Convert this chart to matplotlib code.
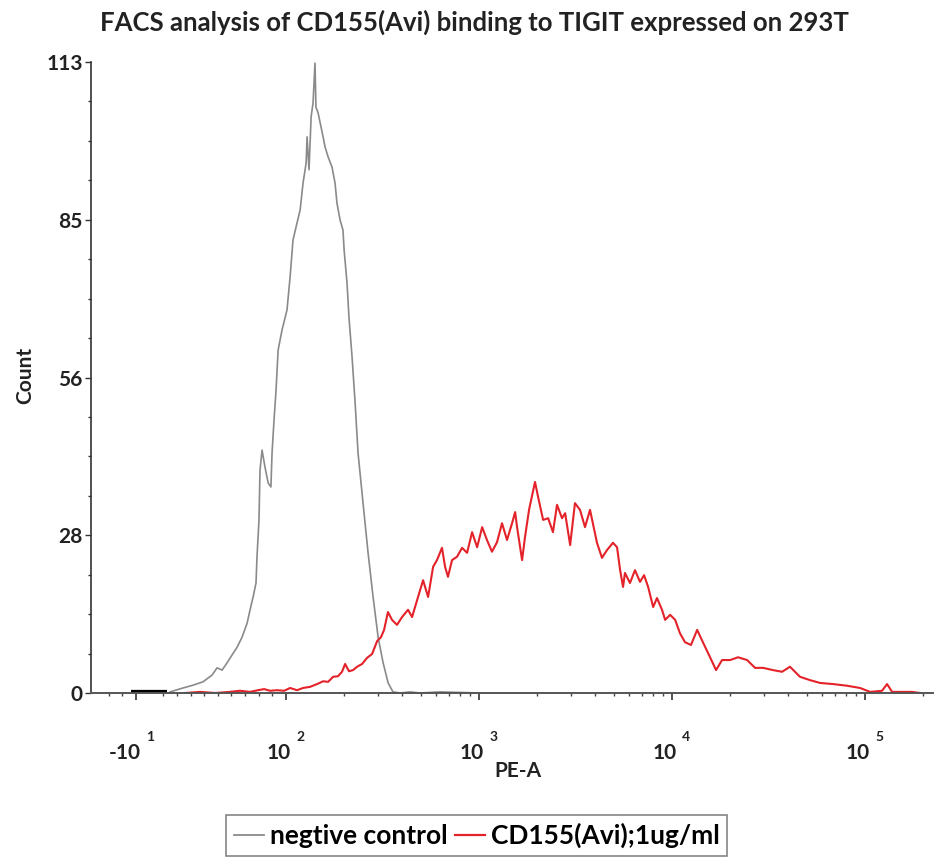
import numpy as np
import matplotlib.pyplot as plt
from matplotlib import transforms
from matplotlib.lines import Line2D

plt.rcParams['font.family'] = ['Lato', 'DejaVu Sans']
plt.rcParams['font.weight'] = 'bold'

neg_log = [1.176, 1.389, 1.502, 1.592, 1.660, 1.694, 1.725, 1.754, 1.781, 1.807,
           1.831, 1.854, 1.867, 1.880, 1.892, 1.896, 1.904, 1.908, 1.916, 1.927,
           1.939, 1.949, 1.953, 1.960, 1.967, 1.974, 1.987,
           2.005, 2.021, 2.036, 2.057, 2.073, 2.088, 2.104, 2.109, 2.119, 2.130,
           2.140, 2.150, 2.155, 2.166, 2.181, 2.192, 2.202, 2.218, 2.238, 2.254,
           2.264, 2.280, 2.295, 2.301, 2.316, 2.326, 2.342, 2.358, 2.373, 2.399,
           2.425, 2.451, 2.477, 2.503, 2.529, 2.554, 2.591, 2.643, 2.694, 2.798,
           3.005]
neg_count = [0.2, 0.9, 1.4, 2.0, 3.2, 4.5, 4.1, 5.4, 6.8, 8.2,
             10.0, 12.5, 14.9, 17.2, 19.7, 24.4, 31.0, 39.9, 43.5, 40.5,
             37.6, 36.9, 43.0, 48.9, 54.3, 61.4, 65.0,
             68.6, 74.5, 81.1, 84.2, 86.5, 91.3, 94.9, 99.6, 93.7, 103.2,
             105.7, 112.8, 104.9, 103.9, 101.4, 99.6, 97.8, 96.0, 94.2, 91.3,
             87.7, 84.7, 82.9, 79.3, 73.4, 67.3, 60.2, 51.9, 43.0, 34.0,
             25.1, 17.2, 10.0, 5.4, 1.8, 0.2, 0, 0.2, 0, 0.2,
             0]

cd155_log = [1.414, 1.568, 1.681, 1.770, 1.821, 1.867, 1.900, 1.924, 1.946, 1.970, 1.994,
             2.021, 2.057, 2.088, 2.124, 2.161, 2.192, 2.218, 2.244, 2.269, 2.290,
             2.306, 2.326, 2.347, 2.368, 2.394, 2.420, 2.446, 2.472, 2.492, 2.508,
             2.528, 2.549, 2.575, 2.601, 2.632, 2.653, 2.684, 2.710, 2.736, 2.762,
             2.782, 2.808, 2.824, 2.839, 2.860, 2.886, 2.912, 2.938, 2.964, 2.990,
             3.016, 3.041, 3.067, 3.093, 3.119, 3.145, 3.171, 3.187, 3.197, 3.223,
             3.238, 3.259, 3.290, 3.306, 3.332, 3.358, 3.383, 3.404, 3.430, 3.446,
             3.472, 3.497, 3.523, 3.549, 3.575, 3.611, 3.637, 3.663, 3.694, 3.715,
             3.731, 3.746, 3.756, 3.782, 3.808, 3.834, 3.855, 3.876, 3.902, 3.922,
             3.948, 3.964, 3.990, 4.016, 4.041, 4.067, 4.098, 4.130, 4.161, 4.197,
             4.228, 4.259, 4.301, 4.342, 4.389, 4.430, 4.472, 4.523, 4.570, 4.611,
             4.663, 4.715, 4.767, 4.834, 4.907, 4.974, 5.026, 5.088, 5.114, 5.140,
             5.181, 5.244, 5.285]
cd155_count = [0, 0.2, 0, 0.2, 0.4, 0.2, 0.5, 0.7, 0.4, 0.5, 0.4,
               0.9, 0.5, 0.9, 1.1, 1.6, 2.1, 2.0, 2.9, 3.0, 3.8,
               5.2, 3.9, 4.1, 4.7, 5.2, 6.3, 7.0, 9.3, 10.0, 11.3,
               14.5, 13.1, 12.2, 13.6, 14.9, 13.6, 17.2, 20.2, 17.2, 22.6,
               23.8, 26.0, 22.6, 20.8, 23.8, 24.4, 26.0, 25.1, 28.8, 26.1,
               29.7, 27.4, 25.3, 27.0, 30.4, 27.4, 30.4, 32.4, 29.7, 23.8,
               27.9, 32.8, 37.8, 35.1, 31.0, 31.3, 28.8, 33.7, 31.3, 32.2,
               26.5, 34.0, 32.8, 29.7, 32.8, 26.9, 24.2, 25.6, 26.9, 26.1,
               22.0, 19.0, 21.5, 19.7, 22.0, 19.9, 21.1, 19.0, 15.4, 17.0,
               14.9, 13.1, 14.0, 13.1, 10.7, 9.1, 8.6, 11.3, 9.0, 6.4,
               4.1, 5.9, 5.9, 6.4, 5.9, 4.5, 4.5, 4.1, 3.8, 4.7,
               2.9, 2.3, 1.8, 1.6, 1.3, 0.9, 0.2, 0.4, 1.6, 0.2,
               0.2, 0.2, 0]

# events piled up around zero (black stub on the axis)
zero_pe = [-14, 13]
zero_count = [0, 0]

y_ticks = [0, 28.25, 56.5, 84.75, 113]
y_labels = ['0', '28', '56', '85', '113']
x_ticks = [-10, 1e2, 1e3, 1e4, 1e5]
x_base = ['-10', '10', '10', '10', '10']
x_exp = ['1', '2', '3', '4', '5']

W, H = 935, 857
fig = plt.figure(figsize=(W / 100, H / 100), dpi=100)
ax = fig.add_axes([91 / W, 1 - 693 / H, (933 - 91) / W, (693 - 62) / H])
ax.set_xscale('symlog', linthresh=100, linscale=0.636)

gray = '#8a8a8a'
red = '#e4222a'
ax.plot(10 ** np.array(neg_log), neg_count, color=gray, lw=1.2)
ax.plot(10 ** np.array(cd155_log), cd155_count, color=red, lw=1.5)
ax.plot(zero_pe, zero_count, color='black', lw=4.5, solid_capstyle='butt')

ax.set_xlim(-43, 2.249e5)
ax.set_ylim(0, 113)

for s in ['top', 'right']:
    ax.spines[s].set_visible(False)
ax.spines['left'].set_color('#333333')
ax.spines['bottom'].set_color('#555555')
ax.spines['left'].set_linewidth(1.2)
ax.spines['bottom'].set_linewidth(1.4)

ax.set_yticks(y_ticks)
ax.set_yticklabels(y_labels)
ax.set_yticks(np.arange(0, 113.01, 113 / 16), minor=True)
ax.tick_params(axis='y', which='major', length=4, width=1, color='#333333',
               labelsize=15, pad=2, labelcolor='#222222')
ax.tick_params(axis='y', which='minor', length=2.5, width=1, color='#333333')

minor_x = [-30, -20, 10, 20, 30, 40, 50, 60, 70, 80, 90]
for d in [100, 1000, 10000]:
    minor_x += [k * d for k in range(2, 10)]
minor_x += [2e5]
ax.set_xticks(x_ticks)
ax.set_xticklabels([''] * len(x_ticks))
ax.set_xticks(minor_x, minor=True)
ax.tick_params(axis='x', which='major', length=5, width=1.2, color='#333333')
ax.tick_params(axis='x', which='minor', length=2.5, width=1, color='#444444')

# "10" with its exponent set high on the right, as in the cytometer export
tr = ax.get_xaxis_transform()
for xt, b, e in zip(x_ticks, x_base, x_exp):
    t1 = transforms.offset_copy(tr, fig=fig, x=5, y=-60, units='dots')
    ax.text(xt, 0, b, transform=t1, ha='right', va='center', fontsize=15,
            color='#222222')
    t2 = transforms.offset_copy(tr, fig=fig, x=10, y=-44, units='dots')
    ax.text(xt, 0, e, transform=t2, ha='left', va='center', fontsize=10,
            color='#222222')

fig.text(474 / W, 1 - 22 / H, 'FACS analysis of CD155(Avi) binding to TIGIT expressed on 293T',
         ha='center', va='center', fontsize=18.5, color='#222222')
fig.text(25 / W, 1 - 375 / H, 'Count', rotation=90, ha='center', va='center',
         fontsize=15, color='#222222')
fig.text(518 / W, 1 - 771 / H, 'PE-A', ha='center', va='center', fontsize=15,
         color='#222222')

handles = [Line2D([], [], color=gray, lw=1.3), Line2D([], [], color=red, lw=1.6)]
leg = fig.legend(handles, ['negtive control', 'CD155(Avi);1ug/ml'],
                 loc='upper left', bbox_to_anchor=(226 / W, 1 - 815 / H),
                 ncol=2, fontsize=19, frameon=True, fancybox=False,
                 handlelength=1.15, handletextpad=0.2, columnspacing=0.3,
                 borderpad=0.3, borderaxespad=0)
leg.get_frame().set_edgecolor('#666666')
leg.get_frame().set_linewidth(1.2)

fig.savefig('out.png', dpi=100)
